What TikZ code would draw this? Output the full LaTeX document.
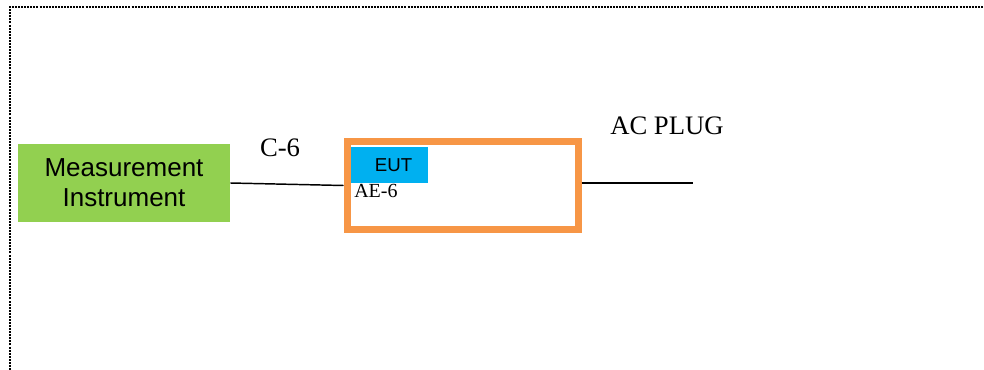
\documentclass[tikz,border=0pt]{standalone}
\usepackage{fontspec}
\setmainfont{Liberation Serif}
\setsansfont{Liberation Sans}
\definecolor{instgreen}{HTML}{92D050}
\definecolor{eutorange}{HTML}{F79646}
\definecolor{eutblue}{HTML}{00B0F0}
\begin{document}
\begin{tikzpicture}[
      every node/.style={inner sep=0pt},
      tag/.style={font=\fontsize{20}{24}\selectfont},
      x=0.75pt,
      y=-0.75pt]
    \useasboundingbox (0,0) rectangle (984,370);
    \draw [line width=1.6pt, dash pattern=on 1.5pt off 0.8pt, black]
      (10,370) -- (10,7) -- (984,7);

    \node [fill=instgreen, minimum width=159pt, minimum height=58.5pt,
           align=center, font=\sffamily\fontsize{19.5}{22.5}\selectfont]
      (inst) at (124,183) {Measurement\\Instrument};
    \node [draw=eutorange, line width=5.25pt, minimum width=173.25pt,
           minimum height=66pt] (eut) at (462.5,185.5) {};
    \node [fill=eutblue, minimum width=57.75pt, minimum height=27pt,
           font=\sffamily\fontsize{14}{16}\selectfont]
      (eutname) at (389.5,165) {\hspace{6pt}EUT};
    \node [anchor=base west, font=\fontsize{15}{18}\selectfont]
      (ae6) at (354,198) {AE-6};

    \node [tag, anchor=base] (c6) at (280,157) {C-6};
    \node [tag, anchor=base west] (acplug) at (610,135) {AC PLUG};
    \coordinate (plug) at (693,183);

    \draw [line width=1.1pt] (inst.east) -- (eut.west);
    \draw [line width=1.1pt] (eut.east |- plug) -- (plug);

  \end{tikzpicture}
\end{document}
